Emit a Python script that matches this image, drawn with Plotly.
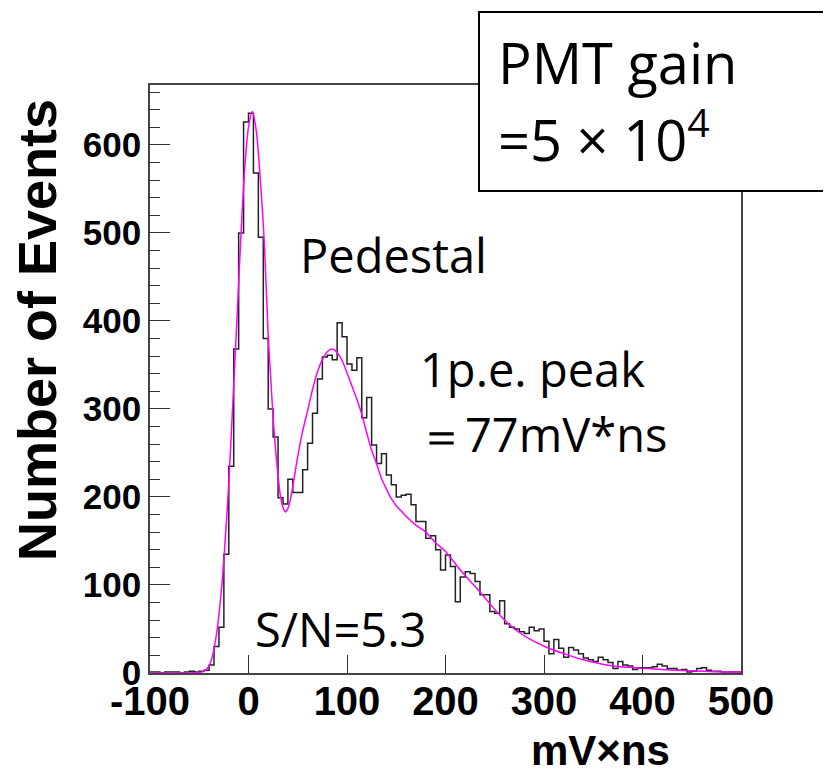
import plotly.graph_objects as go

# ---- data ----
bin_width = 5
bin_start = -100
counts = [1, 1, 0, 1, 1, 1, 0, 1, 2, 1, 2,
          3, 9, 30, 52, 135, 235, 368, 500, 626,
          636, 568, 495, 380, 300, 268, 199, 192, 220, 205,
          205, 231, 261, 295, 334, 359, 361, 356, 398, 382,
          351, 344, 358, 290, 313, 259, 238, 249, 225, 214,
          200, 202, 203, 191, 172, 172, 153, 156, 140, 117,
          134, 121, 81, 109, 115, 113, 104, 89, 89, 70,
          68, 82, 56, 52, 50, 47, 45, 52, 48, 50,
          36, 22, 38, 28, 18, 29, 26, 22, 17, 15,
          13, 18, 15, 12, 5, 13, 9, 8, 4, 6,
          6, 6, 7, 10, 8, 5, 5, 3, 4, 1,
          2, 5, 6, 3, 2, 2, 1, 1, 1, 1]

fit_x = [-100, -70, -55, -48, -44, -40, -36, -32, -28, -24, -20, -16, -12, -8, -4, 0, 4, 8, 12,
         16, 20, 22, 25, 28, 30, 32, 35, 37.5, 40, 42.5, 45, 50, 55, 60, 65, 70, 75, 80, 85,
         90, 95, 100, 105, 110, 115, 120, 125, 130, 135, 140, 145, 150, 155, 160, 170, 180,
         190, 200, 215, 235, 255, 270, 288, 303, 320, 340, 355, 370, 405, 440, 472, 500]
fit_y = [0, 0, 0.2, 1, 3, 8, 22, 48, 88, 145, 216, 305, 395, 490, 570, 620, 638, 615, 560,
         490, 383, 345, 290, 247, 225, 204, 188, 183, 187, 197, 212, 246, 275, 298, 322, 342, 356, 365, 368,
         364, 355, 341, 326, 311, 294, 273, 253, 238, 221, 209, 198, 190, 184, 178, 168, 160,
         148, 138, 117, 92, 66, 50, 37, 29, 22, 15, 11, 8, 5, 2.7, 1.5, 1]

x_tickvals = [-100, 0, 100, 200, 300, 400, 500]
x_ticktext = ["-100", "0", "100", "200", "300", "400", "500"]
y_tickvals = [0, 100, 200, 300, 400, 500, 600]
y_ticktext = ["0", "100", "200", "300", "400", "500", "600"]

edges = [bin_start + i * bin_width for i in range(len(counts) + 1)]
step_y = counts + [counts[-1]]

fig = go.Figure()
fig.add_trace(go.Scatter(x=edges, y=step_y, mode="lines", line_shape="hv",
                         line=dict(color="#222222", width=1.5), hoverinfo="skip"))
fig.add_trace(go.Scatter(x=fit_x, y=fit_y, mode="lines", line_shape="spline",
                         line=dict(color="#ff00ff", width=1.5, smoothing=0.8), hoverinfo="skip"))

# page body adds an 8px offset; reference pixel coords are converted by subtracting it
OFF = 8
W, H = 831 - OFF, 776 - OFF
X0, X1, Y0, Y1 = 150 - OFF, 741 - OFF, 85 - OFF, 673 - OFF   # plot area in figure px
L, R, T, B = X0, W - X1, Y0, H - Y1
PW, PH = X1 - X0, Y1 - Y0


def px(xr):
    return (xr - OFF - X0) / PW


def py(yr):
    return (Y1 - (yr - OFF)) / PH


axis_font = "Liberation Sans Narrow, Liberation Sans, Arial, sans-serif"
lab_font = "Open Sans, Noto Sans, sans-serif"

fig.update_layout(
    width=W, height=H,
    margin=dict(l=L, r=R, t=T, b=B, autoexpand=False),
    paper_bgcolor="white", plot_bgcolor="white",
    showlegend=False,
    xaxis=dict(range=[-100, 500], tickvals=x_tickvals, ticktext=x_ticktext,
               ticks="inside", ticklen=18, ticklabelstandoff=-8,
               tickwidth=1.2, tickcolor="#333", showgrid=False, zeroline=False,
               showline=True, linecolor="#444", linewidth=1.5, mirror=True,
               tickfont=dict(family=axis_font, size=40, color="black", weight="bold")),
    yaxis=dict(range=[0, 668], tickvals=y_tickvals, ticktext=y_ticktext,
               ticks="inside", ticklen=20,
               tickwidth=1.2, tickcolor="#333", showgrid=False, zeroline=False,
               showline=True, linecolor="#444", linewidth=1.5, mirror=True,
               minor=dict(ticks="inside", ticklen=10, dtick=20, tickwidth=1, tickcolor="#333"),
               tickfont=dict(family="Liberation Sans, Arial, sans-serif", size=35,
                             color="black", weight="bold")),
)

fig.add_annotation(text="Number of Events", xref="paper", yref="paper",
                   x=px(37), y=py(330), textangle=-90, showarrow=False,
                   xanchor="center", yanchor="middle",
                   font=dict(family="Liberation Sans, Arial, sans-serif", size=54,
                             color="black", weight="bold"))
fig.add_annotation(text="mV×ns", xref="paper", yref="paper",
                   x=px(600), y=py(750), showarrow=False,
                   xanchor="center", yanchor="middle",
                   font=dict(family=axis_font, size=42, color="black", weight="bold"))

labels = [("Pedestal", 298, 255), ("1p.e. peak", 418, 369),
          ("＝77mV*ns", 416, 434), ("S/N=5.3", 253, 629)]
for t, xx, yy in labels:
    fig.add_annotation(text=t, xref="paper", yref="paper", x=px(xx), y=py(yy),
                       showarrow=False, xanchor="left", yanchor="middle",
                       font=dict(family=lab_font, size=47, color="black"))

fig.add_shape(type="rect", xref="paper", yref="paper",
              x0=px(479), x1=px(829), y0=py(191), y1=py(12),
              line=dict(color="black", width=2), fillcolor="white", layer="above")
fig.add_annotation(text="PMT gain", xref="paper", yref="paper", x=px(496), y=py(62),
                   showarrow=False, xanchor="left", yanchor="middle",
                   font=dict(family=lab_font, size=56, color="black"))
fig.add_annotation(text="=5 × 10<sup>4</sup>", xref="paper", yref="paper", x=px(496), y=py(136),
                   showarrow=False, xanchor="left", yanchor="middle",
                   font=dict(family=lab_font, size=56, color="black"))

fig.write_html("out.html")
